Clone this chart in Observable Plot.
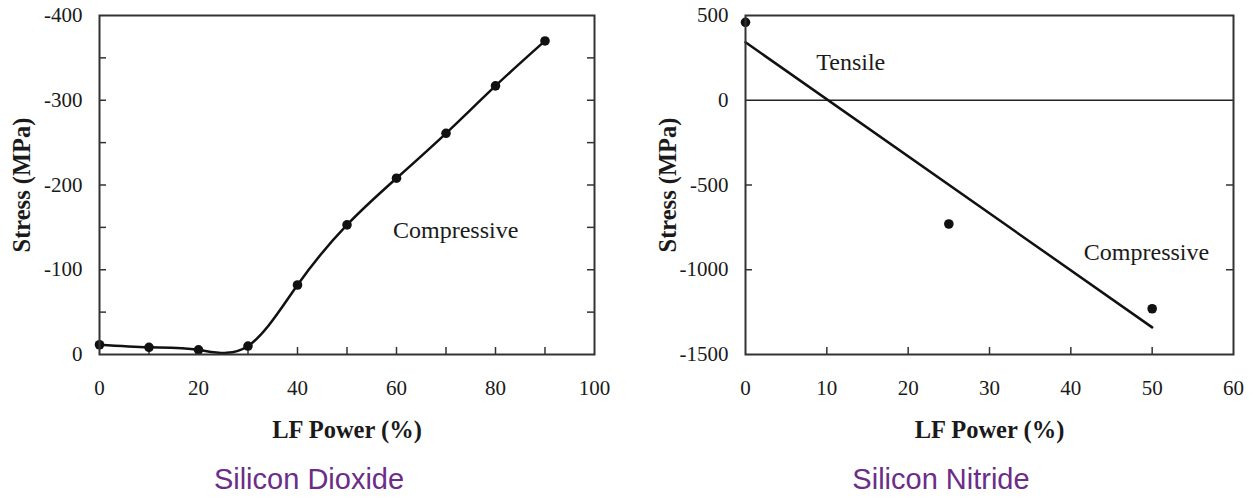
<!DOCTYPE html>
<html>
<head>
<meta charset="utf-8">
<script src="https://cdn.jsdelivr.net/npm/d3@7"></script>
<script src="https://cdn.jsdelivr.net/npm/@observablehq/plot@0.6"></script>
<style>
  html, body { margin: 0; padding: 0; background: #fff; }
  #wrap { position: relative; width: 1253px; height: 498px; overflow: hidden; background: #fff; }
  .panel { position: absolute; top: 0; }
  .title { position: absolute; top: 465px; font-family: "Liberation Sans", Arial, sans-serif; font-size: 29px; line-height: 29px; color: #6b2d87; text-align: center; width: 400px; white-space: nowrap; }
</style>
</head>
<body>
<div id="wrap">
  <div id="left" class="panel" style="left:0px"></div>
  <div id="right" class="panel" style="left:630px"></div>
  <div id="t0" class="title" style="left:109px"></div>
  <div id="t1" class="title" style="left:741px"></div>
</div>
<script>
// ---- data ----
const titles = ["Silicon Dioxide", "Silicon Nitride"];
const xLabel = "LF Power (%)";
const yLabel = "Stress (MPa)";

const sio2Power  = [0, 10, 20, 30, 40, 50, 60, 70, 80, 90];
const sio2Stress = [-11.5, -8.5, -5.5, -10, -82, -153, -208, -261, -317, -370];
const sio2XTicks = [0, 20, 40, 60, 80, 100];
const sio2XMinor = [10, 20, 30, 40, 50, 60, 70, 80, 90];
const sio2YTicks = [-400, -300, -200, -100, 0];
const sio2YMinor = [-350, -300, -250, -200, -150, -100, -50];
const sio2NoteText = ["Compressive"];
const sio2NoteX = [59.3];
const sio2NoteY = [-146];

const sinPower  = [0, 25, 50];
const sinStress = [460, -730, -1230];
const sinFitPower  = [0, 50];
const sinFitStress = [342, -1340];
const sinXTicks = [0, 10, 20, 30, 40, 50, 60];
const sinXMinor = [10, 20, 30, 40, 50];
const sinYTicks = [500, 0, -500, -1000, -1500];
const sinYMinor = [-500, -1000];
const sinZero = [0];
const sinNoteText = ["Tensile", "Compressive"];
const sinNoteX = [8.7, 41.6];
const sinNoteY = [224, -898];

// ---- tables ----
const sio2 = sio2Power.map((p, i) => ({power: p, stress: sio2Stress[i]}));
const sin = sinPower.map((p, i) => ({power: p, stress: sinStress[i]}));
const sinFit = sinFitPower.map((p, i) => ({power: p, stress: sinFitStress[i]}));
const sio2Notes = sio2NoteText.map((t, i) => ({text: t, x: sio2NoteX[i], y: sio2NoteY[i]}));
const sinNotes = sinNoteText.map((t, i) => ({text: t, x: sinNoteX[i], y: sinNoteY[i]}));

const ink = "#1a1a1a";
const frameInk = "#333";
const fmt = d => String(d);

function panel({width, marginLeft, marginRight, xDomain, yDomain, xTicks, xMinor, yTicks, yMinor, marks}) {
  const marginTop = 15, marginBottom = 91, height = 445;
  const innerW = width - marginLeft - marginRight;
  const innerH = height - marginTop - marginBottom;
  const tl = 7;
  const tickStyle = {stroke: frameInk, strokeOpacity: 1, strokeWidth: 1.5};
  return Plot.plot({
    width, height, marginLeft, marginRight, marginTop, marginBottom,
    style: {fontFamily: "'Liberation Serif', 'Times New Roman', serif", color: ink, background: "white", overflow: "visible"},
    x: {domain: xDomain},
    y: {domain: yDomain},
    marks: [
      Plot.gridX({ticks: xMinor, insetTop: innerH - tl, ...tickStyle}),
      Plot.gridY({ticks: yMinor, insetRight: innerW - tl, ...tickStyle}),
      Plot.gridY({ticks: yMinor, insetLeft: innerW - tl, ...tickStyle}),
      Plot.axisX({ticks: xTicks, tickSize: 0, tickPadding: 26, fontSize: 21, tickFormat: fmt, label: null, fill: ink}),
      Plot.axisY({ticks: yTicks, tickSize: 0, tickPadding: 17, fontSize: 21, tickFormat: fmt, label: null, fill: ink}),
      Plot.text([xLabel], {frameAnchor: "bottom", dy: 83, lineAnchor: "bottom", textAnchor: "middle", fontSize: 24.5, fontWeight: "bold", fill: ink}),
      Plot.text([yLabel], {frameAnchor: "left", rotate: -90, dx: -77, textAnchor: "middle", lineAnchor: "middle", fontSize: 24.5, fontWeight: "bold", fill: ink}),
      ...marks,
      Plot.frame({stroke: frameInk, strokeWidth: 2})
    ]
  });
}

const left = panel({
  width: 620, marginLeft: 99, marginRight: 26,
  xDomain: [0, 100], yDomain: [0, -400],
  xTicks: sio2XTicks, xMinor: sio2XMinor, yTicks: sio2YTicks, yMinor: sio2YMinor,
  marks: [
    Plot.line(sio2, {x: "power", y: "stress", curve: "natural", stroke: "#111", strokeWidth: 2.5}),
    Plot.dot(sio2, {x: "power", y: "stress", r: 4.8, fill: "#111"}),
    Plot.text(sio2Notes, {x: "x", y: "y", text: "text", textAnchor: "start", fontSize: 24, fill: ink})
  ]
});

const right = panel({
  width: 623, marginLeft: 115, marginRight: 20,
  xDomain: [0, 60], yDomain: [-1500, 500],
  xTicks: sinXTicks, xMinor: sinXMinor, yTicks: sinYTicks, yMinor: sinYMinor,
  marks: [
    Plot.ruleY(sinZero, {stroke: "#222", strokeWidth: 1.5}),
    Plot.line(sinFit, {x: "power", y: "stress", stroke: "#111", strokeWidth: 2.5}),
    Plot.dot(sin, {x: "power", y: "stress", r: 4.8, fill: "#111"}),
    Plot.text(sinNotes, {x: "x", y: "y", text: "text", textAnchor: "start", fontSize: 24, fill: ink})
  ]
});

document.getElementById("left").appendChild(left);
document.getElementById("right").appendChild(right);
document.getElementById("t0").textContent = titles[0];
document.getElementById("t1").textContent = titles[1];
</script>
</body>
</html>
